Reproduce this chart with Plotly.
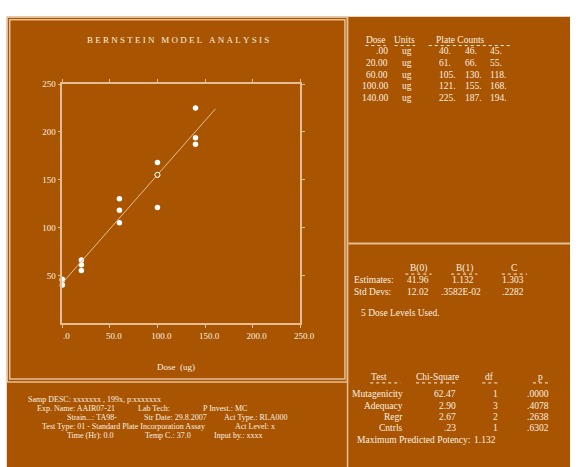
import math
import plotly.graph_objects as go

# ---- assay data -------------------------------------------------------
doses = [0.0, 20.0, 60.0, 100.0, 140.0]
dose_unit = "ug"
plate_counts = [
    [40, 46, 45],
    [61, 66, 55],
    [105, 130, 118],
    [121, 155, 168],
    [225, 187, 194],
]

# ---- model estimates ---------------------------------------------------
param_names = ["B(0)", "B(1)", "C"]
estimates = [41.96, 1.132, 1.303]
std_devs = [12.02, 0.003582, 0.2282]
fit_dose_range = [0.0, 161.0]
marked_dose = 100.0

# ---- goodness of fit ---------------------------------------------------
tests = ["Mutagenicity", "Adequacy", "Regr", "Cntrls"]
chi_square = [62.47, 2.90, 2.67, 0.23]
dfs = [1, 3, 2, 1]
p_values = [0.0000, 0.4078, 0.2638, 0.6302]
max_potency = 1.132

# ---- axis ticks --------------------------------------------------------
x_ticks = [0, 50, 100, 150, 200, 250]
x_tick_text = [".0", "50.0", "100.0", "150.0", "200.0", "250.0"]
y_ticks = [50, 100, 150, 200, 250]
y_tick_text = ["50", "100", "150", "200", "250"]

# ---- sample description lines (text, left pixel) ----------------------
info_lines = [
    [("Samp DESC: xxxxxxx , 199x, p:xxxxxxx", 28)],
    [("Exp. Name: AAIR07-21", 37), ("Lab Tech:", 141), ("P Invest.: MC", 207)],
    [("Strain...: TA98-", 68), ("Str Date: 29.8.2007", 147), ("Act Type.: RLA000", 229)],
    [("Test Type: 01 - Standard Plate Incorporation Assay", 42), ("Act Level: x", 240)],
    [("Time (Hr): 0.0", 68), ("Temp C.: 37.0", 148), ("Input by.: xxxx", 219)],
]

W, H = 585, 467
BROWN = "#A85400"
RULE = "#E6BE96"
INK = "#FBF0E2"
FONT = "Liberation Serif"


def fx(x):
    return x / W


def fy(y):
    return 1 - y / H


def num(v, fmt):
    s = format(v, fmt)
    if s.startswith("0."):
        s = s[1:]
    return s


def sci(v):
    # 0.003582 -> .3582E-02
    e = math.floor(math.log10(abs(v))) + 1
    m = v / 10 ** e
    return num(m, ".4f") + "E" + ("-" if e < 0 else "+") + f"{abs(e):02d}"


fig = go.Figure()

# observed plate counts
xs, ys = [], []
for d, counts in zip(doses, plate_counts):
    for c in counts:
        xs.append(d)
        ys.append(c)
fig.add_trace(go.Scatter(
    x=xs, y=ys, mode="markers",
    marker=dict(color="white", size=5.5, line=dict(width=0)),
    cliponaxis=False, hoverinfo="skip", showlegend=False))

# fitted line B0 + B1*dose
b0, b1 = estimates[0], estimates[1]
fig.add_trace(go.Scatter(
    x=fit_dose_range, y=[b0 + b1 * d for d in fit_dose_range], mode="lines",
    line=dict(color=RULE, width=1), cliponaxis=False,
    hoverinfo="skip", showlegend=False))
fig.add_trace(go.Scatter(
    x=[marked_dose], y=[b0 + b1 * marked_dose], mode="markers",
    marker=dict(color=BROWN, size=5, line=dict(color="white", width=1)),
    cliponaxis=False, hoverinfo="skip", showlegend=False))

shapes = []
# page background
shapes.append(dict(type="rect", xref="paper", yref="paper",
                   x0=fx(7), x1=1, y0=0, y1=fy(12),
                   fillcolor=BROWN, line=dict(width=0), layer="below"))
# double frame round the chart panel
for (l, t, r, b) in [(7.5, 12.5, 356.5, 381), (10, 15, 354, 378)]:
    shapes.append(dict(type="rect", xref="paper", yref="paper",
                       x0=fx(l), x1=fx(r), y0=fy(b), y1=fy(t),
                       line=dict(color=RULE, width=1.5), layer="below"))
# right column divider and section rule
shapes.append(dict(type="line", xref="paper", yref="paper",
                   x0=fx(356.7), x1=fx(356.7), y0=0, y1=fy(12),
                   line=dict(color=RULE, width=1.5)))
shapes.append(dict(type="line", xref="paper", yref="paper",
                   x0=fx(357.5), x1=1, y0=fy(241), y1=fy(241),
                   line=dict(color=RULE, width=2)))


def dotted(x0, x1, y):
    shapes.append(dict(type="line", xref="paper", yref="paper",
                       x0=fx(x0), x1=fx(x1), y0=fy(y), y1=fy(y),
                       line=dict(color=INK, width=1, dash="dot")))


annotations = []


def txt(s, x, y, anchor="left", size=9.5):
    annotations.append(dict(text=s, x=fx(x), y=fy(y), xref="paper", yref="paper",
                            xanchor=anchor, yanchor="middle", showarrow=False,
                            borderpad=0,
                            font=dict(family=FONT, size=size, color=INK)))


# chart title and axis title
title = "\u00a0\u00a0\u00a0".join("\u00a0".join(w) for w in "BERNSTEIN MODEL ANALYSIS".split())
txt(title, 183, 35, "center", 9)
txt("Dose\u00a0\u00a0(ug)", 181, 366, "center", 9)

# dose / plate count table
txt("Dose", 385.5, 35, "center")
txt("Units", 415, 35, "center")
txt("Plate Counts", 472.5, 35, "center")
dotted(375, 396, 41)
dotted(405, 426, 41)
dotted(440, 524, 41)
row_y = [47, 58.5, 70.5, 82, 94]
for d, counts, yy in zip(doses, plate_counts, row_y):
    txt(num(d, ".2f"), 399, yy, "right")
    txt(dose_unit, 418, yy, "center")
    for c, cx in zip(counts, [450, 476, 502]):
        txt(f"{c}.", cx, yy, "left")

# parameter estimates
for name, cx, (u0, u1) in zip(param_names, [430, 477, 528],
                               [(416, 443), (463, 490), (515, 541)]):
    txt(name, cx, 266, "center")
    dotted(u0, u1, 272)
txt("Estimates:", 362, 278)
txt("Std Devs:", 362, 290)
est_x = [416.5, 463, 514]
est_txt = [f"{estimates[0]:.2f}", num(estimates[1], ".3f"), num(estimates[2], ".3f")]
sd_txt = [f"{std_devs[0]:.2f}", sci(std_devs[1]), num(std_devs[2], ".4f")]
sd_x = [416.5, 452, 514]
for s, x in zip(est_txt, est_x):
    txt(s, x, 278)
for s, x in zip(sd_txt, sd_x):
    txt(s, x, 290)
txt(f"{len(doses)} Dose Levels Used.", 369, 311.5)

# chi-square tests
txt("Test", 388.5, 376.5, "center")
txt("Chi-Square", 448.5, 376.5, "center")
txt("df", 502, 376.5, "center")
txt("p", 555, 376.5, "center")
dotted(380, 411, 382)
dotted(427, 470, 382)
dotted(495, 512, 382)
dotted(547, 563.5, 382)
for name, chi, d, p, yy in zip(tests, chi_square, dfs, p_values, [393.5, 405, 416.5, 428]):
    txt(name, 414.5, yy, "right")
    txt(num(chi, ".2f"), 469.5, yy, "right")
    txt(str(d), 512.5, yy, "right")
    txt(num(p, ".4f"), 564.5, yy, "right")
txt("Maximum Predicted Potency:", 365.5, 440)
txt(f"{max_potency:.3f}", 485, 440)

# sample description block
for line, yy in zip(info_lines, [399, 408, 417, 426, 435]):
    for s, x in line:
        txt(s, x, yy, "left", 8)

axis_common = dict(showline=True, linecolor=RULE, linewidth=1.5, mirror="ticks",
                   ticks="outside", ticklen=3, tickcolor=RULE, tickwidth=1,
                   showgrid=False, zeroline=False, fixedrange=True,
                   tickfont=dict(family=FONT, size=9, color=INK))

fig.update_layout(
    width=W, height=H,
    margin=dict(l=0, r=0, t=0, b=0),
    paper_bgcolor="white",
    plot_bgcolor=BROWN,
    xaxis=dict(domain=[fx(64), fx(308)], range=[0, 250],
               tickvals=x_ticks, ticktext=x_tick_text, ticklabelshift=4,
               **axis_common),
    yaxis=dict(domain=[fy(321.6), fy(80)], range=[0, 250],
               tickvals=y_ticks, ticktext=y_tick_text, **axis_common),
    shapes=shapes,
    annotations=annotations,
    showlegend=False,
)

fig.write_html("out.html")
